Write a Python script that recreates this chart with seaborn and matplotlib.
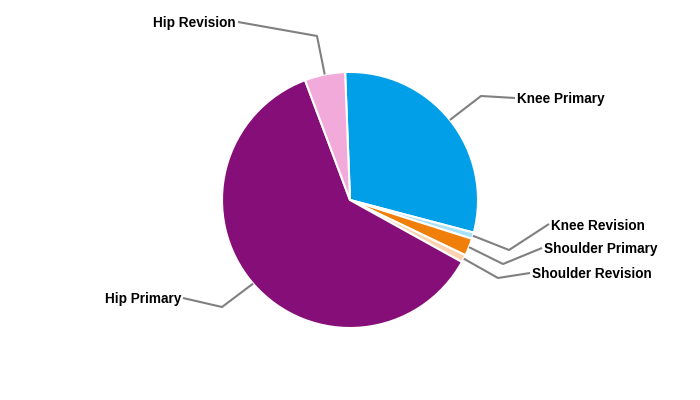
import seaborn as sns
import matplotlib
matplotlib.use('Agg')
import matplotlib.pyplot as plt
import numpy as np

# values (percent of procedures)
procedures = ['Knee Primary', 'Knee Revision', 'Shoulder Primary', 'Shoulder Revision', 'Hip Primary', 'Hip Revision']
shares = [29.7, 0.8, 2.2, 0.95, 61.2, 5.1]
colours = ['#009FE8', '#A8E2F8', '#F07F0A', '#FDD2AE', '#860E78', '#F1AAD9']

# where the leader line bends and where the label sits (pixels)
elbows = [(481, 96), (509, 250), (503, 264), (498, 278), (222, 307), (317, 36)]
label_pos = [(517, 98), (551, 224), (544, 248), (532, 273), (181, 298), (236, 22)]

sns.set_style('white')
plt.rcParams['font.family'] = ['Liberation Sans', 'DejaVu Sans']

fig = plt.figure(figsize=(7, 4), dpi=100)
ax = fig.add_axes([0, 0, 1, 1])

R = 128.0  # pie radius in pixels
def px(x, y):
    return (x - 350) / R, (200 - y) / R

wedges, _ = ax.pie(shares, colors=colours, startangle=92.2, counterclock=False,
                   radius=1, center=(0, 0),
                   wedgeprops=dict(edgecolor='white', linewidth=1.5))

for w, name, el, lp in zip(wedges, procedures, elbows, label_pos):
    mid = np.deg2rad((w.theta1 + w.theta2) / 2)
    sx, sy = np.cos(mid), np.sin(mid)
    ex, ey = px(*el)
    tx, ty = px(*lp)
    right = tx > 0
    endx = tx - 2 / R if right else tx + 2 / R
    ax.plot([sx, ex, endx], [sy, ey, ty], color='#808080', lw=1.5, solid_capstyle='butt')
    ax.text(tx, ty - 1.5 / R, name, ha='left' if right else 'right', va='center',
            fontsize=9.8, fontweight='bold', color='black')

ax.set_xlim(-350 / R, 350 / R)
ax.set_ylim(-200 / R, 200 / R)
ax.set_aspect('equal')
ax.axis('off')

fig.savefig('out.png', dpi=100)
